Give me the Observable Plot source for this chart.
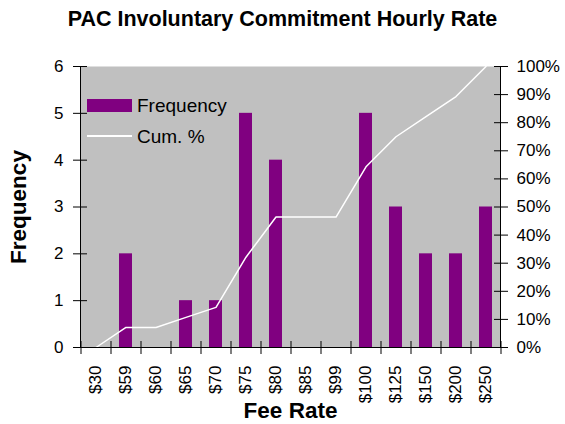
<!DOCTYPE html>
<html><head><meta charset="utf-8">
<script src="https://cdn.jsdelivr.net/npm/d3@7"></script>
<script src="https://cdn.jsdelivr.net/npm/@observablehq/plot@0.6"></script>
<style>
body{margin:0;background:#fff;font-family:"Liberation Sans",Arial,sans-serif;}
#wrap{position:relative;width:565px;height:424px;overflow:hidden;}
#title{height:40px;line-height:38px;text-align:center;font-weight:bold;font-size:21.5px;color:#000;}
.leg{position:absolute;font-size:19px;color:#000;line-height:1;}
</style></head><body>
<div id="wrap">
<div id="title">PAC Involuntary Commitment Hourly Rate</div>
<div id="chart"></div>
<div class="leg" style="left:87px;top:99px;width:45px;height:13px;background:#800080;"></div>
<div class="leg" style="left:137px;top:96px;">Frequency</div>
<div class="leg" style="left:87px;top:135px;width:45px;height:2px;background:#fff;"></div>
<div class="leg" style="left:137px;top:127px;">Cum. %</div>
</div>
<script>
const feeRates = ["$30","$59","$60","$65","$70","$75","$80","$85","$99","$100","$125","$150","$200","$250"];
const frequency = [0,2,0,1,1,5,4,0,0,5,3,2,2,3];
const cumPercent = [0,7.14,7.14,10.71,14.29,32.14,46.43,46.43,46.43,64.29,75,82.14,89.29,100];
const leftTicks = [0,1,2,3,4,5,6];
const rightTicks = [0,10,20,30,40,50,60,70,80,90,100];
const yMax = 6;

const data = feeRates.map((f,i)=>({fee:f,freq:frequency[i],cum:cumPercent[i]}));

const chart = Plot.plot({
  width:565, height:384,
  marginTop:26, marginBottom:77, marginLeft:80, marginRight:65,
  style:{fontFamily:"Liberation Sans, Arial, sans-serif", fontSize:"17px", color:"#000", background:"transparent", overflow:"visible"},
  x:{domain:feeRates, paddingInner:0.57, paddingOuter:0.285, align:0.5},
  y:{domain:[0,yMax]},
  marks:[
    Plot.frame({fill:"#c0c0c0", stroke:null}),
    Plot.barY(data,{x:"fee", y:"freq", fill:"#800080"}),
    Plot.line(data,{x:"fee", y:d=>d.cum*yMax/100, stroke:"#fff", strokeWidth:1.5}),
    Plot.frame({anchor:"left", stroke:"#000"}),
    Plot.frame({anchor:"right", stroke:"#000"}),
    Plot.frame({anchor:"bottom", stroke:"#000"}),
    Plot.axisY({ticks:leftTicks, anchor:"left", tickSize:14, dx:7, tickPadding:10, label:null, stroke:"#000", tickFormat:d3.format("d")}),
    Plot.axisY({ticks:rightTicks.map(p=>p*yMax/100), anchor:"right", tickSize:14, dx:-7, tickPadding:9, label:null,
      tickFormat:d=>Math.round(d/yMax*100)+"%", stroke:"#000"}),
    Plot.axisX({ticks:feeRates, tickSize:13, dx:-15, dy:-6, tickFormat:()=>"", label:null, stroke:"#000"}),
    Plot.axisX({ticks:[feeRates[feeRates.length-1]], tickSize:13, dx:15, dy:-6, tickFormat:()=>"", label:null, stroke:"#000"}),
    Plot.axisX({ticks:feeRates, tickSize:0, tickRotate:-90, tickPadding:18, label:null}),
    Plot.text(["Frequency"],{frameAnchor:"left", rotate:-90, dx:-62, textAnchor:"middle", lineAnchor:"middle", fontWeight:"bold", fontSize:22.5}),
    Plot.text(["Fee Rate"],{frameAnchor:"bottom", dy:63, textAnchor:"middle", lineAnchor:"middle", fontWeight:"bold", fontSize:22.5})
  ]
});
document.getElementById("chart").appendChild(chart);
</script>
</body></html>
